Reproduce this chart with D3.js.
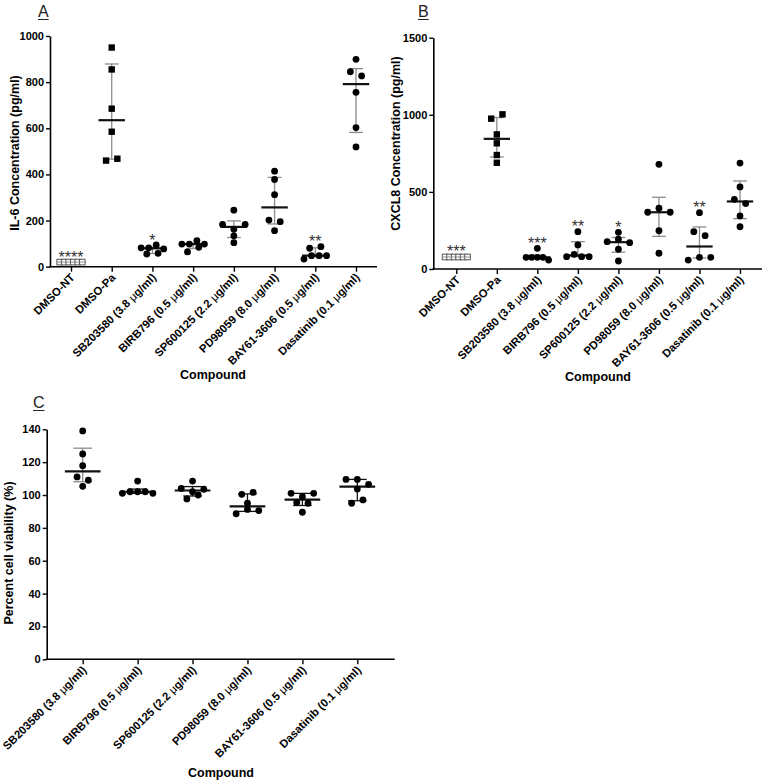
<!DOCTYPE html>
<html><head><meta charset="utf-8">
<script src="https://cdn.jsdelivr.net/npm/d3@7/dist/d3.min.js"></script>
<style>
body{margin:0;background:#fff}
svg{display:block}
text{font-family:"Liberation Sans",Arial,sans-serif}
</style>
</head><body>
<svg id="chart" width="766" height="784"></svg>
<script>
// ---------- data ----------
const compoundsAB = ["DMSO-NT","DMSO-Pa","SB203580 (3.8 μg/ml)","BIRB796 (0.5 μg/ml)","SP600125 (2.2 μg/ml)","PD98059 (8.0 μg/ml)","BAY61-3606 (0.5 μg/ml)","Dasatinib (0.1 μg/ml)"];
const compoundsC = ["SB203580 (3.8 μg/ml)","BIRB796 (0.5 μg/ml)","SP600125 (2.2 μg/ml)","PD98059 (8.0 μg/ml)","BAY61-3606 (0.5 μg/ml)","Dasatinib (0.1 μg/ml)"];

const il6Values = [
  [20,20,20,20,20,20],
  [950,855,685,585,460,468],
  [82,82,94,77,55,58],
  [98,98,113,98,64,84],
  [245,183,162,183,134,104],
  [414,378,312,202,195,156],
  [80,87,33,48,48,48],
  [899,845,827,756,603,519]
];
const il6Stars = ["****","","*","","","","**",""];
const il6Ticks = [0,200,400,600,800,1000];

const cxcl8Values = [
  [78,78,78,78,78,78],
  [975,1003,873,815,739,689],
  [134,76,76,76,76,58],
  [242,156,80,95,80,80],
  [238,177,193,171,128,52],
  [679,368,394,368,248,102],
  [365,242,216,58,76,76],
  [687,532,452,424,344,274]
];
const cxcl8Stars = ["***","","***","**","*","","**",""];
const cxcl8Ticks = [0,500,1000,1500];

const viabilityValues = [
  [139,125,117.8,111,109,105.3],
  [108.5,101,102,102,102,101],
  [108.5,104,102,103.5,97.6,100],
  [100.4,101.6,95,88.6,91.2,90.5],
  [101,99,101,95.5,95,89.5],
  [109.5,109.5,106.5,103.6,95,97]
];
const viabilityStars = ["","","","","",""];
const viabilityTicks = [0,20,40,60,80,100,120,140];

// ---------- helpers ----------
const svg = d3.select("#chart");
svg.append("rect").attr("width",766).attr("height",784).attr("fill","#fff");

function quant(sorted,p){
  const n = sorted.length, h = (n+1)*p, lo = Math.floor(h), f = h-lo;
  if (lo < 1) return sorted[0];
  if (lo >= n) return sorted[n-1];
  return sorted[lo-1] + f*(sorted[lo]-sorted[lo-1]);
}

function swarm(vals, y, step){
  const idx = vals.map((v,i)=>i).sort((a,b)=>vals[b]-vals[a]);
  const rows = []; let cur = null;
  idx.forEach(i=>{
    const py = y(vals[i]);
    if (cur && Math.abs(py-cur.y) <= 5.3) cur.items.push(i);
    else { cur = {y:py, items:[i]}; rows.push(cur); }
  });
  const off = new Array(vals.length).fill(0);
  const W = 0.555*step;
  rows.forEach(r=>{
    r.items.sort((a,b)=>a-b);
    const n = r.items.length;
    const s = n>1 ? Math.min(11.3, W/(n-1)) : 0;
    r.items.forEach((i,k)=>off[i] = (k-(n-1)/2)*s);
  });
  return off;
}

function labelWithMu(sel){
  sel.each(function(d){
    const t = d3.select(this); t.text(null);
    const parts = d.split("μ");
    parts.forEach((p,i)=>{
      if (i>0) t.append("tspan").attr("font-weight","normal").text("μ");
      t.append("tspan").text(p);
    });
  });
}

function panelLetter(txt,x,y){
  const t = svg.append("text").attr("x",x).attr("y",y)
    .attr("font-family","'Liberation Serif','Times New Roman',serif")
    .attr("font-size",16).attr("fill","#222").text(txt);
  const w = t.node().getComputedTextLength();
  svg.append("line").attr("x1",x).attr("x2",x+w).attr("y1",y+2.5).attr("y2",y+2.5)
    .attr("stroke","#222").attr("stroke-width",1);
}

function panel(cfg){
  const g = svg.append("g");
  const y = d3.scaleLinear().domain([0,cfg.ymax]).range([cfg.y0,cfg.y1]);
  const x = d3.scalePoint().domain(cfg.cats).range([cfg.c0,cfg.c1]);
  const step = x.step();

  // y axis
  const ya = g.append("g").attr("transform",`translate(${cfg.ax0},0)`)
    .call(d3.axisLeft(y).tickValues(cfg.ticks).tickSize(4).tickSizeOuter(0).tickPadding(2).tickFormat(d3.format("d")));
  ya.select(".domain").attr("stroke","#000").attr("stroke-width",1.6);
  ya.selectAll(".tick line").attr("stroke","#000").attr("stroke-width",1.4);
  ya.selectAll(".tick text").attr("font-size",11).attr("font-weight","bold").attr("fill","#000")
    .attr("font-family","'Liberation Sans',Arial,sans-serif");

  // x axis
  const xa = g.append("g").attr("transform",`translate(0,${cfg.y0})`)
    .call(d3.axisBottom(x).tickSize(5).tickSizeOuter(0).tickFormat(""));
  xa.select(".domain").remove();
  xa.selectAll(".tick line").attr("stroke","#000").attr("stroke-width",1.4);
  g.append("line").attr("x1",cfg.ax0-0.8).attr("x2",cfg.ax1).attr("y1",cfg.y0).attr("y2",cfg.y0)
    .attr("stroke","#000").attr("stroke-width",1.6);

  g.selectAll("text.xl").data(cfg.cats).enter().append("text").attr("class","xl")
    .attr("transform",d=>`translate(${x(d)+4.5},${cfg.y0+11.5}) rotate(-45)`)
    .attr("text-anchor","end").attr("font-size",11.3).attr("font-weight","bold").attr("fill","#000")
    .call(labelWithMu);

  // axis titles
  g.append("text").attr("transform",`translate(${cfg.yt[0]},${cfg.yt[1]}) rotate(-90)`)
    .attr("text-anchor","middle").attr("font-size",12.5).attr("font-weight","bold").text(cfg.ytitle);
  g.append("text").attr("x",cfg.xt[0]).attr("y",cfg.xt[1])
    .attr("text-anchor","middle").attr("font-size",12.5).attr("font-weight","bold").text("Compound");

  const medW = 0.65*step, capW = 0.34*step;
  cfg.cats.forEach((c,gi)=>{
    const vals = cfg.values[gi];
    const cx = x(c);
    const sorted = vals.slice().sort((a,b)=>a-b);
    const med = quant(sorted,0.5), q1 = quant(sorted,0.25), q3 = quant(sorted,0.75);
    const ec = cfg.errColor(gi);
    const eg = g.append("g").attr("stroke",ec).attr("stroke-width",1.3);
    eg.append("line").attr("x1",cx).attr("x2",cx).attr("y1",y(q1)).attr("y2",y(q3));
    [q1,q3].forEach(q=>eg.append("line").attr("x1",cx-capW/2).attr("x2",cx+capW/2).attr("y1",y(q)).attr("y2",y(q)));
    g.append("line").attr("x1",cx-medW/2).attr("x2",cx+medW/2).attr("y1",y(med)).attr("y2",y(med))
      .attr("stroke","#111").attr("stroke-width",2.2);

    const off = swarm(vals,y,step);
    const kind = cfg.kinds[gi];
    vals.forEach((v,i)=>{
      const px = cx+off[i], py = y(v);
      if (kind==="circle"){
        g.append("circle").attr("cx",px).attr("cy",py).attr("r",3.4).attr("fill","#000");
      } else if (kind==="square"){
        g.append("rect").attr("x",px-3.2).attr("y",py-3.2).attr("width",6.4).attr("height",6.4).attr("fill","#000");
      } else {
        g.append("rect").attr("x",px-2.8).attr("y",py-2.8).attr("width",5.6).attr("height",5.6)
          .attr("fill","#fff").attr("stroke","#555").attr("stroke-width",1);
        g.append("line").attr("x1",px-2.8).attr("x2",px+2.8).attr("y1",py).attr("y2",py)
          .attr("stroke","#777").attr("stroke-width",0.8);
      }
    });
    const st = cfg.stars[gi];
    if (st){
      g.append("text").attr("x",cx).attr("y",y(d3.max(vals))+0.5).attr("text-anchor","middle")
        .attr("font-size",16).attr("fill","#333").text(st);
    }
  });
}

// ---------- panels ----------
panelLetter("A",38,17);
panelLetter("B",418,17);
panelLetter("C",33,408);

panel({cats:compoundsAB, values:il6Values, stars:il6Stars, ticks:il6Ticks, ymax:1000,
  ax0:50, ax1:377, y0:266.7, y1:36, c0:71, c1:356,
  kinds:["nt","square","circle","circle","circle","circle","circle","circle"],
  errColor:()=>"#8c8c8c",
  ytitle:"IL-6 Concentration (pg/ml)", yt:[18.5,153], xt:[213,379]});

panel({cats:compoundsAB, values:cxcl8Values, stars:cxcl8Stars, ticks:cxcl8Ticks, ymax:1500,
  ax0:433.3, ax1:762, y0:269, y1:37.7, c0:456.3, c1:740,
  kinds:["nt","square","circle","circle","circle","circle","circle","circle"],
  errColor:()=>"#8c8c8c",
  ytitle:"CXCL8 Concentration (pg/ml)", yt:[400,143.5], xt:[598,381]});

panel({cats:compoundsC, values:viabilityValues, stars:viabilityStars, ticks:viabilityTicks, ymax:140,
  ax0:46.7, ax1:394.7, y0:659.3, y1:429.3, c0:82.7, c1:357.3,
  kinds:["circle","circle","circle","circle","circle","circle"],
  errColor:(i)=> i===0 ? "#8c8c8c" : "#111",
  ytitle:"Percent cell viability (%)", yt:[12.5,553], xt:[221,777]});
</script>
</body></html>
